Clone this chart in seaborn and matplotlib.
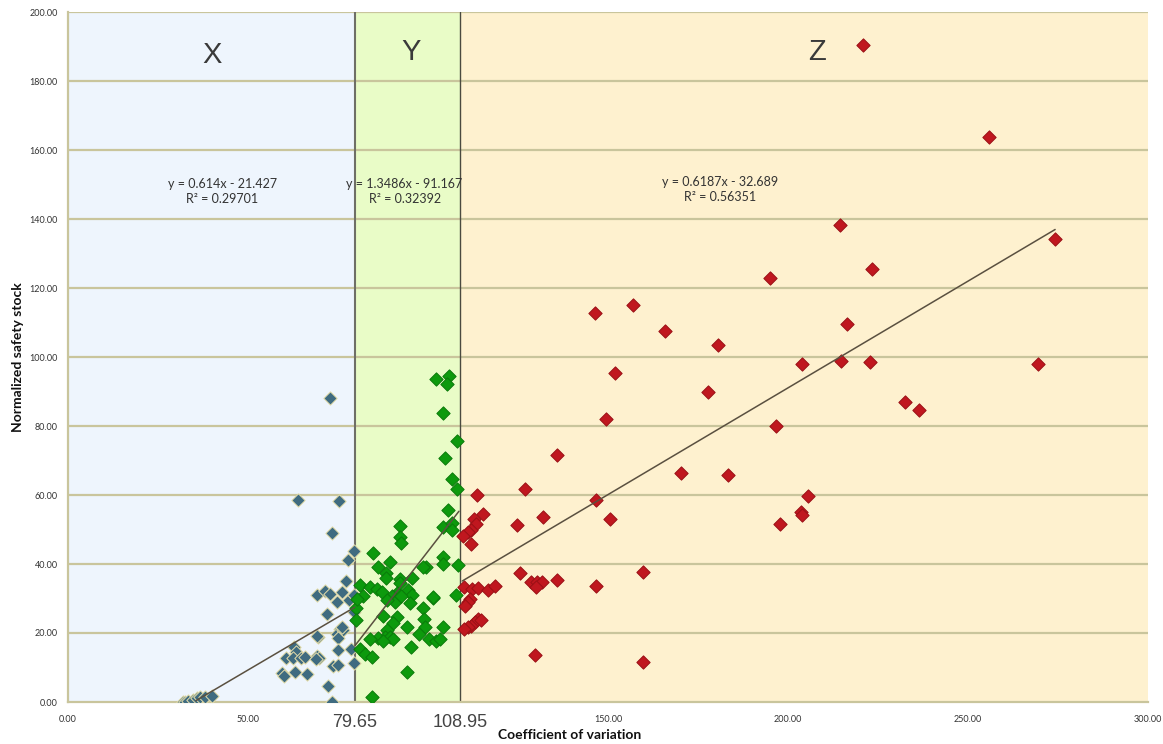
import numpy as np
import pandas as pd
import matplotlib
matplotlib.use("Agg")
import matplotlib.pyplot as plt
import seaborn as sns

# ---------------- data ----------------
x_cv = [31.9, 32.6, 33.4, 34.6, 35.7, 36.7, 38.1, 39.9,
        79.4, 77.8, 77.2, 69.3, 71.3, 72.8, 76.0, 74.8, 78.1, 79.4, 71.9, 79.4,
        75.6, 74.8, 76.5, 69.4, 75.1, 62.9, 63.3, 75.1, 78.6, 60.6, 62.6, 64.6,
        65.8, 69.3, 69.8, 68.9, 79.4, 73.7, 75.1, 59.4, 60.0, 63.1, 66.5, 72.1,
        73.4, 72.8, 64.0, 75.4, 73.3, 69.1, 76.0]
x_ss = [0.1, 0.1, 0.4, 0.6, 1.1, 1.5, 1.5, 1.7,
        43.8, 41.2, 35.2, 31.0, 32.3, 31.3, 31.8, 29.1, 29.6, 31.0, 25.4, 26.2,
        21.2, 19.7, 20.9, 18.9, 18.5, 16.0, 14.6, 15.1, 15.4, 12.7, 12.7, 12.7,
        13.1, 13.3, 12.7, 12.4, 11.4, 10.4, 10.7, 8.5, 7.5, 8.8, 8.1, 4.7,
        0.1, 88.2, 58.6, 58.3, 49.1, 19.1, 21.8]

y_cv = [102.2, 105.9, 105.2, 104.1, 108.1, 104.7, 106.8, 108.1, 105.5, 92.2,
        92.2, 104.3, 106.8, 106.8, 92.4, 84.8, 89.4, 86.2, 88.3, 88.3,
        92.2, 95.5, 99.4, 104.3, 104.3, 108.4, 81.1, 83.9, 85.9, 87.1,
        82.0, 80.0, 80.0, 92.2, 94.5, 95.5, 91.3, 89.9, 90.8, 95.0,
        101.5, 107.8, 88.7, 87.4, 91.3, 90.2, 98.7, 98.9, 99.2, 94.1,
        88.7, 88.1, 89.4, 90.4, 86.2, 87.6, 83.9, 97.6, 100.4, 102.2,
        103.3, 104.1, 95.2, 81.1, 82.5, 84.4, 94.1, 84.4, 92.4, 101.3,
        98.6, 80.4]
y_ss = [93.5, 94.6, 92.1, 83.9, 75.7, 70.8, 64.5, 61.7, 55.7, 51.0,
        47.7, 50.8, 52.0, 50.0, 46.0, 43.3, 40.6, 39.2, 37.3, 35.8,
        35.6, 35.8, 39.2, 41.9, 40.0, 39.7, 33.9, 33.4, 32.7, 32.0,
        30.7, 27.2, 23.8, 34.6, 32.5, 31.0, 31.5, 30.7, 29.1, 28.6,
        30.2, 31.0, 29.6, 24.9, 24.6, 22.8, 27.2, 24.1, 21.7, 21.7,
        20.9, 18.9, 18.9, 18.2, 18.5, 17.8, 18.2, 19.7, 18.2, 17.8,
        18.3, 21.7, 15.8, 15.3, 13.8, 13.1, 8.8, 1.5, 30.7, 30.3,
        39.0, 30.0]

z_cv = [220.9, 255.7, 214.4, 274.2, 223.4, 195.0, 216.3, 146.3, 156.9, 165.7,
        180.6, 203.9, 214.7, 222.8, 269.4, 151.9, 177.9, 232.5, 236.4, 149.5,
        196.8, 135.7, 170.2, 183.2, 205.6, 146.6, 150.6, 203.5, 204.0, 197.9,
        159.8, 146.6, 135.7, 159.6,
        127.0, 113.6, 115.2, 112.7, 131.9, 124.7, 113.2, 111.9, 111.0, 109.6,
        111.9, 125.6, 128.6, 130.2, 131.8, 130.0, 110.0, 112.3, 114.0, 116.8,
        118.6, 111.7, 111.0, 110.3, 114.0, 113.1, 111.9, 111.0, 110.0, 114.7,
        129.7]
z_ss = [190.4, 163.7, 138.3, 134.2, 125.6, 123.0, 109.5, 112.7, 115.0, 107.6,
        103.6, 97.9, 98.8, 98.5, 97.9, 95.3, 90.0, 87.0, 84.6, 82.0,
        80.0, 71.5, 66.5, 65.9, 59.7, 58.6, 52.9, 55.2, 54.1, 51.7,
        37.6, 33.5, 35.3, 11.5,
        61.8, 60.1, 54.5, 53.1, 53.5, 51.2, 51.5, 50.0, 49.3, 48.2,
        45.7, 37.3, 34.8, 34.8, 34.8, 33.2, 33.2, 32.7, 33.1, 32.5,
        33.7, 30.0, 28.9, 27.8, 24.1, 23.3, 22.1, 21.8, 21.1, 23.7,
        13.6]

classes = ["X", "Y", "Z"]
class_colors = ["#3f6b80", "#0d9a0d", "#c0171f"]
band_colors = ["#eef5fd", "#e9fcc7", "#fef1cf"]
bounds = [0.0, 79.65, 108.95, 300.0]

slopes = [0.614, 1.3486, 0.6187]
intercepts = [-21.427, -91.167, -32.689]
fit_x0 = [35.5, 79.65, 109.5]
fit_x1 = [79.65, 108.6, 274.2]
eq_text = ["y = 0.614x - 21.427\nR² = 0.29701",
           "y = 1.3486x - 91.167\nR² = 0.32392",
           "y = 0.6187x - 32.689\nR² = 0.56351"]
eq_pos_x = [42.8, 93.5, 181.0]
eq_pos_y = [148.0, 148.0, 148.5]
letter_x = [40.0, 95.3, 208.0]
letter_y = [187.5, 188.3, 188.3]

x_ticks = [0, 50, 100, 150, 200, 250, 300]
x_ticklabels = ["0.00", "50.00", "", "150.00", "200.00", "250.00", "300.00"]
y_ticks = list(range(0, 201, 20))
y_ticklabels = [f"{v:.2f}" for v in y_ticks]

# ---------------- frame ----------------
df = pd.DataFrame({
    "cv": x_cv + y_cv + z_cv,
    "ss": x_ss + y_ss + z_ss,
    "cls": ["X"] * len(x_cv) + ["Y"] * len(y_cv) + ["Z"] * len(z_cv),
})

sns.set_style("white")
plt.rcParams["font.family"] = ["Lato", "DejaVu Sans"]

fig = plt.figure(figsize=(11.63, 7.44), dpi=100)
ax = fig.add_axes([68 / 1163, 1 - 702 / 744, (1148 - 68) / 1163, 690 / 744])

grid_c = "#c9c59c"
for i in range(3):
    ax.axvspan(bounds[i], bounds[i + 1], color=band_colors[i], zorder=0, lw=0)
for v in y_ticks[1:]:
    ax.axhline(v, color=grid_c, lw=1.6, zorder=1)

ax.axvline(bounds[1], color="#6f6f66", lw=1.5, zorder=2)
ax.axvline(bounds[2], color="#4a4a40", lw=1.0, zorder=2)

for i in range(3):
    xs = np.array([fit_x0[i], fit_x1[i]])
    ax.plot(xs, slopes[i] * xs + intercepts[i], color="#5a5040", lw=1.1, zorder=4)

edge_cols = {"X": "#e6deaa", "Y": "#0a7a0a", "Z": "#9a1015"}
for c, col in zip(classes, class_colors):
    sub = df[df["cls"] == c]
    sns.scatterplot(data=sub, x="cv", y="ss", marker="D", s=46, color=col,
                    edgecolor=edge_cols[c], linewidth=0.7, ax=ax, zorder=3,
                    legend=False)

for i in range(3):
    ax.text(eq_pos_x[i], eq_pos_y[i], eq_text[i], ha="center", va="center",
            fontsize=9, color="#333333", linespacing=1.25, zorder=5)
    ax.text(letter_x[i], letter_y[i], classes[i], ha="center", va="center",
            fontsize=21, color="#3a3a3a", family=["Liberation Sans"], zorder=5)

ax.set_xlim(0, 300)
ax.set_ylim(0, 200)
ax.set_xticks(x_ticks)
ax.set_xticklabels(x_ticklabels)
ax.set_yticks(y_ticks)
ax.set_yticklabels(y_ticklabels)
ax.tick_params(axis="both", labelsize=6.5, colors=grid_c, labelcolor="#333333",
               length=4, width=1.2, direction="out")
ax.tick_params(axis="x", pad=5)

for sp in ["top", "right"]:
    ax.spines[sp].set_visible(False)
for sp in ["left", "bottom"]:
    ax.spines[sp].set_color(grid_c)
    ax.spines[sp].set_linewidth(1.6)

for b in bounds[1:3]:
    ax.text(b, -3.5, f"{b:.2f}", ha="center", va="top", fontsize=13,
            color="#444444", family=["Liberation Sans"],
            transform=ax.transData, clip_on=False)

ax.set_xlabel("")
ax.set_ylabel("Normalized safety stock", fontsize=10, fontweight="bold",
              color="#111111", labelpad=4)
fig.text(570 / 1163, 1 - 735 / 744, "Coefficient of variation", ha="center",
         va="center", fontsize=10, fontweight="bold", color="#111111")

fig.savefig("out.png", dpi=100, facecolor="white")
